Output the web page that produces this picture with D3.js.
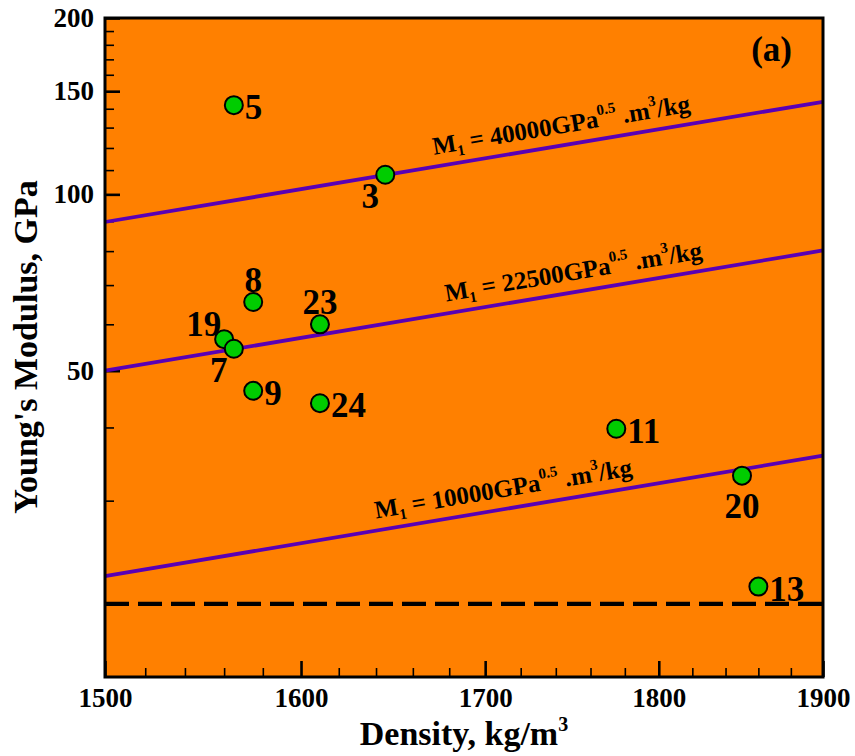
<!DOCTYPE html>
<html>
<head>
<meta charset="utf-8">
<script src="https://cdn.jsdelivr.net/npm/d3@7"></script>
<style>
  body { margin: 0; background: #ffffff; }
  text { font-family: "Liberation Serif", "Times New Roman", serif; font-weight: bold; fill: #000; }
</style>
</head>
<body>
<svg id="chart" width="855" height="756"></svg>
<script>
// Samples: id, density (kg/m3) and Young's modulus (GPa)
const sampleIds = ["5", "3", "8", "23", "19", "7", "9", "24", "11", "20", "13"];
const density   = [1565, 1645, 1575, 1610, 1560, 1565, 1575, 1610, 1775, 1850, 1860];
const modulus   = [142, 108, 65.5, 60, 56.6, 54.5, 46.2, 44, 39.8, 33.1, 21.4];
const labelSide = ["right", "below-left", "above", "above", "above-left", "below-left",
                   "right", "right", "right", "below", "right"];

// Lines of constant material index M1, given by their end values
const indexValues       = ["40000", "22500", "10000"];
const indexDensityEnds  = [1500, 1900];
const indexModulusStart = [89.7, 50, 22.3];
const indexModulusEnd   = [143.9, 80.2, 35.8];
const indexLabelDensity = [1745, 1752, 1712];

// Horizontal limit line
const limitModulus = 20;

// Axes
const xDomain = [1500, 1900];
const yDomain = [15, 200];
const xMajorTicks = [1500, 1600, 1700, 1800, 1900];
const yMajorTicks = [50, 100, 150, 200];
const xMinorTicks = d3.range(1520, 1900, 20).filter(v => v % 100 !== 0);
const yMinorTicks = d3.range(20, 200, 10).filter(v => v % 50 !== 0);

const panelTag = "(a)";

const W = 855, H = 756;
const margin = { left: 105, right: 32, top: 18, bottom: 79 };
const plotW = W - margin.left - margin.right;
const plotH = H - margin.top - margin.bottom;

const svg = d3.select("#chart");
const g = svg.append("g").attr("transform", `translate(${margin.left},${margin.top})`);

const x = d3.scaleLog().domain(xDomain).range([0, plotW]);
const y = d3.scaleLog().domain(yDomain).range([plotH, 0]);

// plot background
g.append("rect").attr("width", plotW).attr("height", plotH).attr("fill", "#ff8000");

// minor ticks
const yMinor = g.append("g").call(d3.axisLeft(y).tickValues(yMinorTicks).tickSize(-9).tickFormat(""));
const xMinor = g.append("g").attr("transform", `translate(0,${plotH})`)
  .call(d3.axisBottom(x).tickValues(xMinorTicks).tickSize(-9).tickFormat(""));
[yMinor, xMinor].forEach(a => {
  a.select(".domain").remove();
  a.selectAll("line").attr("stroke", "#000").attr("stroke-width", 1.6);
});

// major ticks with labels
const yAxis = g.append("g").call(d3.axisLeft(y).tickValues(yMajorTicks).tickSize(-15).tickPadding(11).tickFormat(d3.format("d")));
const xAxis = g.append("g").attr("transform", `translate(0,${plotH})`)
  .call(d3.axisBottom(x).tickValues(xMajorTicks).tickSize(-16).tickPadding(11).tickFormat(d3.format("d")));
[yAxis, xAxis].forEach(a => {
  a.attr("font-size", 27).attr("font-family", null);
  a.select(".domain").remove();
  a.selectAll("line").attr("stroke", "#000").attr("stroke-width", 2.6);
  a.selectAll("text").attr("fill", "#000").style("font-size", "27px").style("font-weight", "bold");
});

// constant-index lines
const indexLines = indexValues.map((v, i) => ({
  name: v,
  p0: [x(indexDensityEnds[0]), y(indexModulusStart[i])],
  p1: [x(indexDensityEnds[1]), y(indexModulusEnd[i])],
  labelAt: indexLabelDensity[i]
}));

g.selectAll("line.index").data(indexLines).join("line")
  .attr("class", "index")
  .attr("x1", d => d.p0[0]).attr("y1", d => d.p0[1])
  .attr("x2", d => d.p1[0]).attr("y2", d => d.p1[1])
  .attr("stroke", "#5a00b4").attr("stroke-width", 3.8);

indexLines.forEach(d => {
  const ang = Math.atan2(d.p1[1] - d.p0[1], d.p1[0] - d.p0[0]) * 180 / Math.PI;
  const px = x(d.labelAt);
  const t = (px - d.p0[0]) / (d.p1[0] - d.p0[0]);
  const py = d.p0[1] + t * (d.p1[1] - d.p0[1]);
  const txt = g.append("text")
    .attr("transform", `translate(${px},${py}) rotate(${ang})`)
    .attr("y", -12).attr("text-anchor", "middle").attr("font-size", 25);
  txt.append("tspan").text("M");
  txt.append("tspan").attr("font-size", 15).attr("dy", 5).text("1");
  txt.append("tspan").attr("dy", -5).text(" = " + d.name + "GPa");
  txt.append("tspan").attr("font-size", 15).attr("dy", -12).text("0.5");
  txt.append("tspan").attr("dy", 12).text(" .m");
  txt.append("tspan").attr("font-size", 15).attr("dy", -12).text("3");
  txt.append("tspan").attr("dy", 12).text("/kg");
});

// limit line
g.append("line")
  .attr("x1", 0).attr("x2", plotW)
  .attr("y1", y(limitModulus)).attr("y2", y(limitModulus))
  .attr("stroke", "#000").attr("stroke-width", 4.2).attr("stroke-dasharray", "24,9");

// sample labels
const sideOffset = {
  "right":      { dx: 11,  dy: 14,  anchor: "start" },
  "below":      { dx: 0,   dy: 42,  anchor: "middle" },
  "below-left": { dx: -15, dy: 33,  anchor: "middle" },
  "above":      { dx: 0,   dy: -10, anchor: "middle" },
  "above-left": { dx: -3,  dy: -3,  anchor: "end" }
};
const samples = sampleIds.map((id, i) => ({ id, rho: density[i], E: modulus[i], side: labelSide[i] }));

g.selectAll("text.sample").data(samples).join("text")
  .attr("class", "sample")
  .attr("x", d => x(d.rho) + sideOffset[d.side].dx)
  .attr("y", d => y(d.E) + sideOffset[d.side].dy)
  .attr("text-anchor", d => sideOffset[d.side].anchor)
  .attr("font-size", 35)
  .text(d => d.id);

// sample markers
g.selectAll("circle.sample").data(samples).join("circle")
  .attr("class", "sample")
  .attr("cx", d => x(d.rho)).attr("cy", d => y(d.E)).attr("r", 9)
  .attr("fill", "#00cc00").attr("stroke", "#000").attr("stroke-width", 2);

// panel tag
g.append("text").attr("x", plotW - 31).attr("y", 43).attr("text-anchor", "end")
  .attr("font-size", 35).text(panelTag);

// frame
g.append("rect").attr("width", plotW).attr("height", plotH)
  .attr("fill", "none").attr("stroke", "#000").attr("stroke-width", 3);

// axis titles
const xt = svg.append("text").attr("x", margin.left + plotW / 2).attr("y", 745)
  .attr("text-anchor", "middle").attr("font-size", 34);
xt.append("tspan").text("Density, kg/m");
xt.append("tspan").attr("font-size", 20).attr("dy", -14).text("3");

svg.append("text").attr("transform", "translate(37,347) rotate(-90)")
  .attr("text-anchor", "middle").attr("font-size", 34).text("Young's Modulus, GPa");
</script>
</body>
</html>
